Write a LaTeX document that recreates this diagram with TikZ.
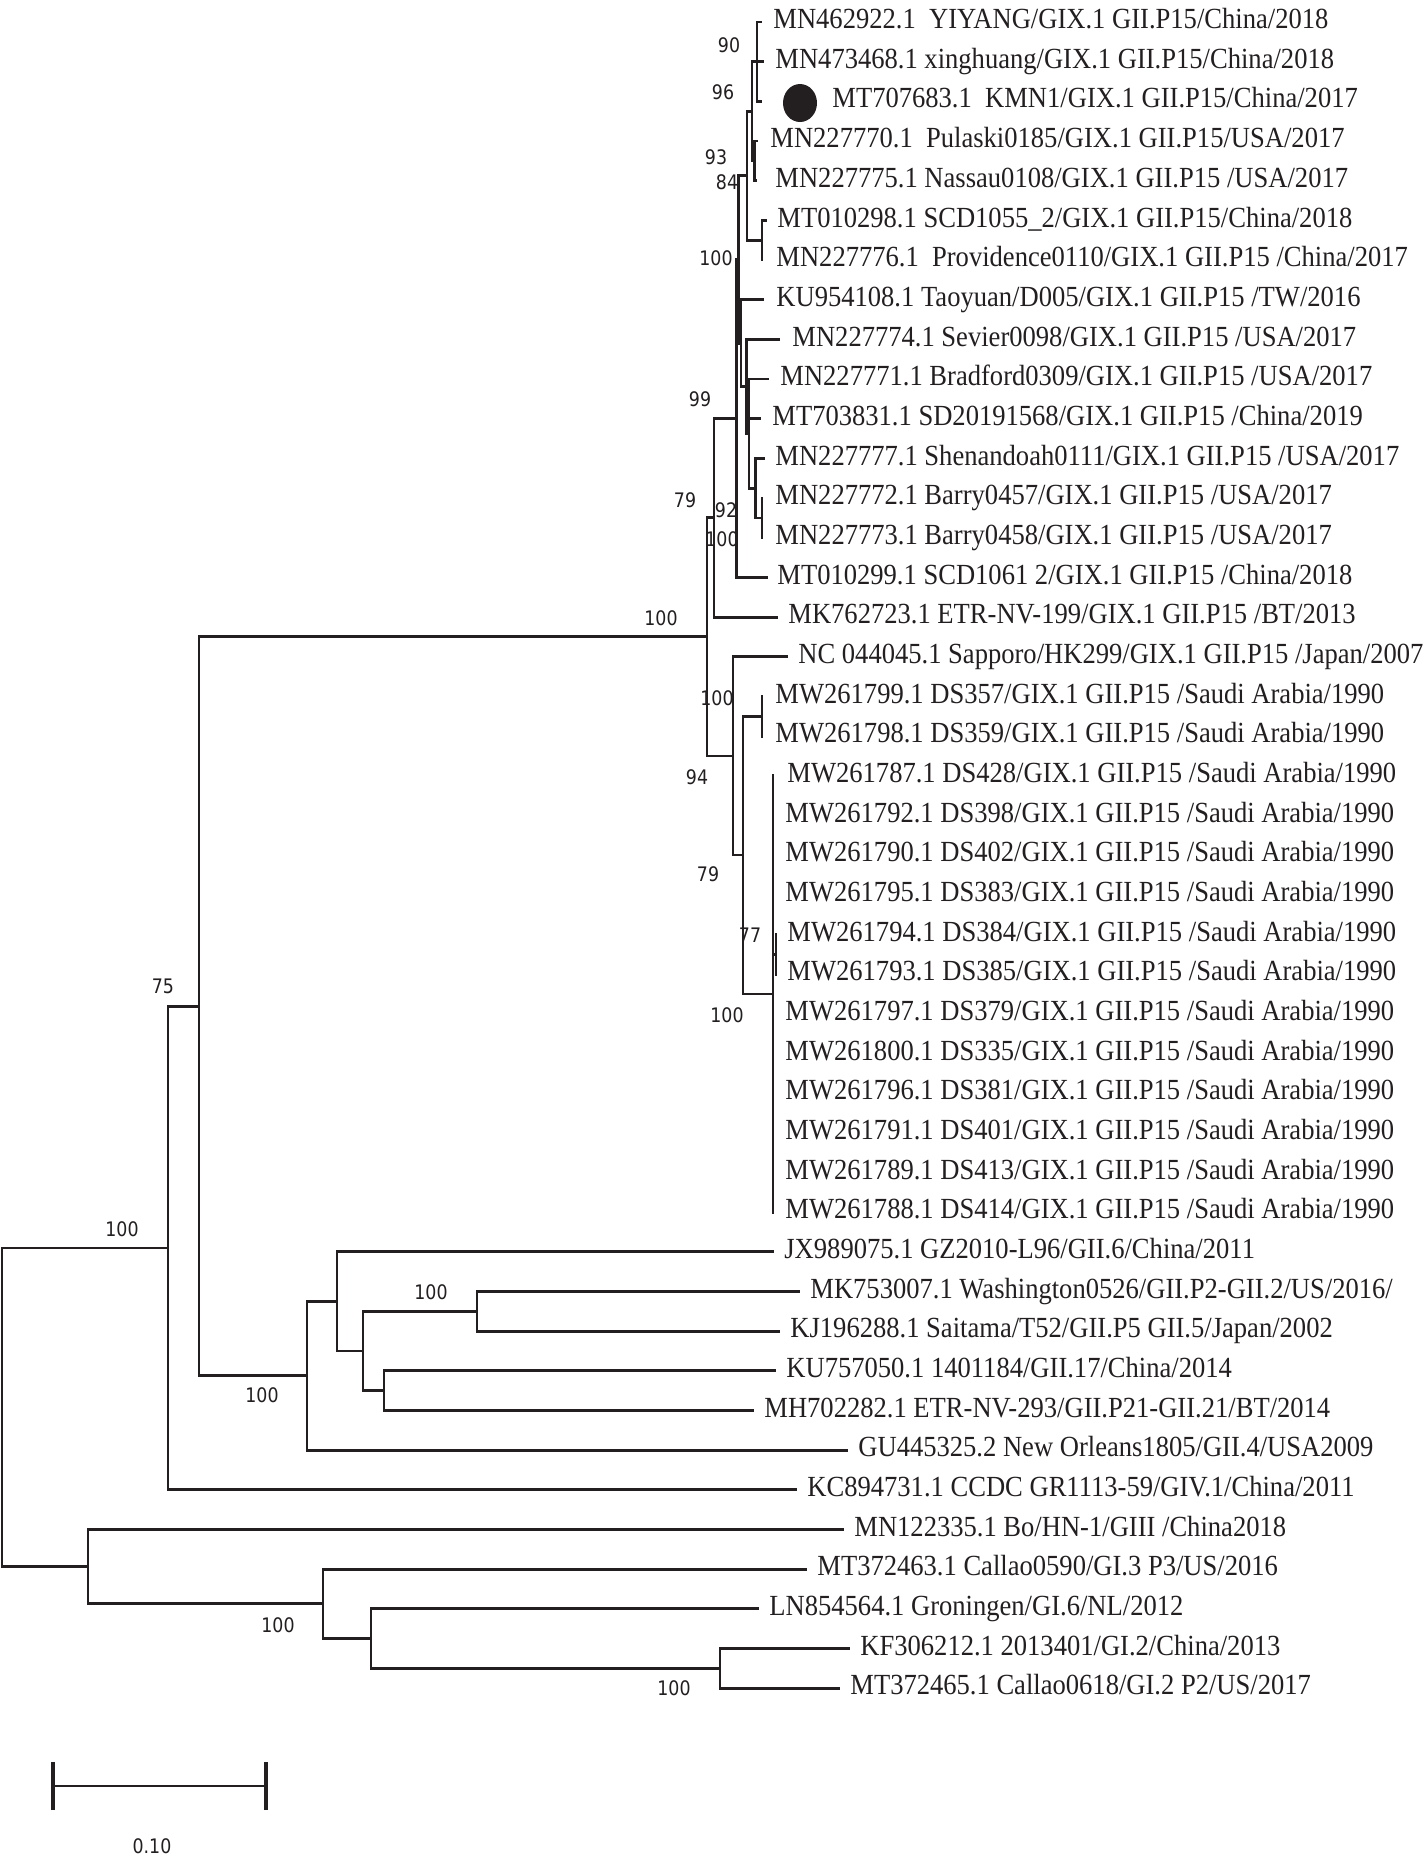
\documentclass[tikz,border=0pt]{standalone}
\usepackage{fontspec}
\usetikzlibrary{shapes.geometric}
\newfontfamily\labfont[FakeStretch=0.91]{Liberation Serif}
\newfontfamily\bsfont[FakeStretch=0.87]{DejaVu Sans}
\definecolor{ink}{HTML}{231F20}
\begin{document}
\begin{tikzpicture}[x=0.5pt,y=-0.5pt,
  br/.style={draw=ink, line width=1.4pt, line cap=rect, line join=miter},
  lab/.style={anchor=west, inner sep=0pt, text height=0.662em, text depth=0pt, font=\labfont\fontsize{14.6}{16}\selectfont, text=ink},
  bs/.style={anchor=center, inner sep=0pt, text height=0.729em, text depth=0pt, font=\bsfont\fontsize{10}{12}\selectfont, text=ink},
  dotstyle/.style={ellipse, fill=ink, draw=none, inner sep=0pt, minimum width=17pt, minimum height=19pt}]
\useasboundingbox (0,0) rectangle (1424,1860);
\fill[white] (0,0) rectangle (1424,1860);

% leaf tips
\foreach \i/\tx/\ty in {0/761/22.0,1/763/61.7,2/761/101.3,3/757/141.0,4/756/180.7,5/766/220.4,6/762/260.0,7/763/299.7,8/779/339.4,9/768/379.0,10/760/418.7,11/764/458.4,12/762/498.0,13/762/537.7,14/767/577.4,15/777/617.1,16/787/656.7,17/762/696.4,18/762/736.1,19/773/775.7,20/773/815.4,21/773/855.1,22/773/894.7,23/776/934.4,24/776/974.1,25/773/1013.7,26/773/1053.4,27/773/1093.1,28/773/1132.8,29/773/1172.4,30/773/1212.1,31/773/1251.8,32/799/1291.4,33/779/1331.1,34/775/1370.8,35/753/1410.5,36/847/1450.1,37/796/1489.8,38/843/1529.5,39/806/1569.1,40/758/1608.8,41/849/1648.5,42/839/1688.1}
  {\coordinate (t\i) at (\tx,\ty);}

% internal nodes
\coordinate (P) at (757,61.7);
\coordinate (R) at (754.5,160.9);
\coordinate (Q) at (752,111.3);
\coordinate (S) at (762,240.2);
\coordinate (F) at (747,175.7);
\coordinate (K) at (762,517.9);
\coordinate (J) at (755.5,488.1);
\coordinate (I) at (749,433.6);
\coordinate (H) at (746.5,386.5);
\coordinate (G) at (741,343.1);
\coordinate (E) at (738.5,259.4);
\coordinate (C) at (736.5,418.4);
\coordinate (B) at (714,517.7);
\coordinate (M) at (762,716.2);
\coordinate (O) at (776,954.2);
\coordinate (N) at (773,993.9);
\coordinate (L) at (743,855.0);
\coordinate (D) at (733,755.9);
\coordinate (A) at (707,636.8);
\coordinate (X) at (477,1311.2);
\coordinate (Y) at (384,1390.6);
\coordinate (W) at (363,1350.9);
\coordinate (V) at (337,1301.3);
\coordinate (U) at (307,1375.7);
\coordinate (T2) at (199,1006.2);
\coordinate (T1) at (168,1248.0);
\coordinate (Z4) at (720,1668.3);
\coordinate (Z3) at (371,1638.5);
\coordinate (Z2) at (323,1603.8);
\coordinate (Z) at (88,1566.6);
\coordinate (root) at (2,1407.3);

% branches
\foreach \p/\c in {P/t0,P/t1,P/t2,R/t3,R/t4,Q/P,Q/R,S/t5,S/t6,F/Q,F/S,K/t12,K/t13,J/t11,J/K,I/t9,I/t10,I/J,H/t8,H/I,G/t7,G/H,E/F,E/G,C/E,C/t14,B/C,B/t15,M/t17,M/t18,O/t23,O/t24,N/t19,N/t20,N/t21,N/t22,N/O,N/t25,N/t26,N/t27,N/t28,N/t29,N/t30,L/M,L/N,D/t16,D/L,A/B,A/D,X/t32,X/t33,Y/t34,Y/t35,W/X,W/Y,V/t31,V/W,U/V,U/t36,T2/A,T2/U,T1/T2,T1/t37,Z4/t41,Z4/t42,Z3/t40,Z3/Z4,Z2/t39,Z2/Z3,Z/t38,Z/Z2,root/T1,root/Z}
  {\draw[br] (\p) |- (\c);}

% leaf labels
\node[lab] (l0) at (773,22.0) {MN462922.1\ \ YIYANG/GIX.1 GII.P15/China/2018};
\node[lab] (l1) at (775,61.7) {MN473468.1 xinghuang/GIX.1 GII.P15/China/2018};
\node[dotstyle] (dot) at (800,103) {};
\node[lab] (l2) at (832,101.3) {MT707683.1\ \ KMN1/GIX.1 GII.P15/China/2017};
\node[lab] (l3) at (770,141.0) {MN227770.1\ \ Pulaski0185/GIX.1 GII.P15/USA/2017};
\node[lab] (l4) at (775,180.7) {MN227775.1 Nassau0108/GIX.1 GII.P15 /USA/2017};
\node[lab] (l5) at (777,220.4) {MT010298.1 SCD1055\_2/GIX.1 GII.P15/China/2018};
\node[lab] (l6) at (776,260.0) {MN227776.1\ \ Providence0110/GIX.1 GII.P15 /China/2017};
\node[lab] (l7) at (776,299.7) {KU954108.1 Taoyuan/D005/GIX.1 GII.P15 /TW/2016};
\node[lab] (l8) at (792,339.4) {MN227774.1 Sevier0098/GIX.1 GII.P15 /USA/2017};
\node[lab] (l9) at (780,379.0) {MN227771.1 Bradford0309/GIX.1 GII.P15 /USA/2017};
\node[lab] (l10) at (772,418.7) {MT703831.1 SD20191568/GIX.1 GII.P15 /China/2019};
\node[lab] (l11) at (775,458.4) {MN227777.1 Shenandoah0111/GIX.1 GII.P15 /USA/2017};
\node[lab] (l12) at (775,498.0) {MN227772.1 Barry0457/GIX.1 GII.P15 /USA/2017};
\node[lab] (l13) at (775,537.7) {MN227773.1 Barry0458/GIX.1 GII.P15 /USA/2017};
\node[lab] (l14) at (777,577.4) {MT010299.1 SCD1061 2/GIX.1 GII.P15 /China/2018};
\node[lab] (l15) at (788,617.1) {MK762723.1 ETR-NV-199/GIX.1 GII.P15 /BT/2013};
\node[lab] (l16) at (798,656.7) {NC 044045.1 Sapporo/HK299/GIX.1 GII.P15 /Japan/2007};
\node[lab] (l17) at (775,696.4) {MW261799.1 DS357/GIX.1 GII.P15 /Saudi Arabia/1990};
\node[lab] (l18) at (775,736.1) {MW261798.1 DS359/GIX.1 GII.P15 /Saudi Arabia/1990};
\node[lab] (l19) at (787,775.7) {MW261787.1 DS428/GIX.1 GII.P15 /Saudi Arabia/1990};
\node[lab] (l20) at (785,815.4) {MW261792.1 DS398/GIX.1 GII.P15 /Saudi Arabia/1990};
\node[lab] (l21) at (785,855.1) {MW261790.1 DS402/GIX.1 GII.P15 /Saudi Arabia/1990};
\node[lab] (l22) at (785,894.7) {MW261795.1 DS383/GIX.1 GII.P15 /Saudi Arabia/1990};
\node[lab] (l23) at (787,934.4) {MW261794.1 DS384/GIX.1 GII.P15 /Saudi Arabia/1990};
\node[lab] (l24) at (787,974.1) {MW261793.1 DS385/GIX.1 GII.P15 /Saudi Arabia/1990};
\node[lab] (l25) at (785,1013.7) {MW261797.1 DS379/GIX.1 GII.P15 /Saudi Arabia/1990};
\node[lab] (l26) at (785,1053.4) {MW261800.1 DS335/GIX.1 GII.P15 /Saudi Arabia/1990};
\node[lab] (l27) at (785,1093.1) {MW261796.1 DS381/GIX.1 GII.P15 /Saudi Arabia/1990};
\node[lab] (l28) at (785,1132.8) {MW261791.1 DS401/GIX.1 GII.P15 /Saudi Arabia/1990};
\node[lab] (l29) at (785,1172.4) {MW261789.1 DS413/GIX.1 GII.P15 /Saudi Arabia/1990};
\node[lab] (l30) at (785,1212.1) {MW261788.1 DS414/GIX.1 GII.P15 /Saudi Arabia/1990};
\node[lab] (l31) at (784,1251.8) {JX989075.1 GZ2010-L96/GII.6/China/2011};
\node[lab] (l32) at (810,1291.4) {MK753007.1 Washington0526/GII.P2-GII.2/US/2016/};
\node[lab] (l33) at (790,1331.1) {KJ196288.1 Saitama/T52/GII.P5 GII.5/Japan/2002};
\node[lab] (l34) at (786,1370.8) {KU757050.1 1401184/GII.17/China/2014};
\node[lab] (l35) at (764,1410.5) {MH702282.1 ETR-NV-293/GII.P21-GII.21/BT/2014};
\node[lab] (l36) at (858,1450.1) {GU445325.2 New Orleans1805/GII.4/USA2009};
\node[lab] (l37) at (807,1489.8) {KC894731.1 CCDC GR1113-59/GIV.1/China/2011};
\node[lab] (l38) at (854,1529.5) {MN122335.1 Bo/HN-1/GIII /China2018};
\node[lab] (l39) at (817,1569.1) {MT372463.1 Callao0590/GI.3 P3/US/2016};
\node[lab] (l40) at (769,1608.8) {LN854564.1 Groningen/GI.6/NL/2012};
\node[lab] (l41) at (860,1648.5) {KF306212.1 2013401/GI.2/China/2013};
\node[lab] (l42) at (850,1688.1) {MT372465.1 Callao0618/GI.2 P2/US/2017};

% bootstrap values
\node[bs] (b1) at (729,45) {90};
\node[bs] (b2) at (723,92) {96};
\node[bs] (b3) at (716,157) {93};
\node[bs] (b4) at (727,182) {84};
\node[bs] (b5) at (716,258) {100};
\node[bs] (b6) at (700,399) {99};
\node[bs] (b7) at (685,500) {79};
\node[bs] (b8) at (726,510) {92};
\node[bs] (b9) at (722,539) {100};
\node[bs] (b10) at (661,618) {100};
\node[bs] (b11) at (717,698) {100};
\node[bs] (b12) at (697,777) {94};
\node[bs] (b13) at (708,874) {79};
\node[bs] (b14) at (750,935) {77};
\node[bs] (b15) at (727,1015) {100};
\node[bs] (b16) at (163,986) {75};
\node[bs] (b17) at (122,1229) {100};
\node[bs] (b18) at (262,1395) {100};
\node[bs] (b19) at (431,1292) {100};
\node[bs] (b20) at (278,1625) {100};
\node[bs] (b21) at (674,1688) {100};

% scale bar
\coordinate (sbL) at (53,1786);
\coordinate (sbR) at (266,1786);
\draw[draw=ink, line width=1.35pt] (sbL) -- (sbR);
\draw[draw=ink, line width=2pt] ([yshift=-12]sbL) -- ([yshift=12]sbL);
\draw[draw=ink, line width=2pt] ([yshift=-12]sbR) -- ([yshift=12]sbR);
\node[bs] (sblab) at (152,1846) {0.10};
\end{tikzpicture}
\end{document}
